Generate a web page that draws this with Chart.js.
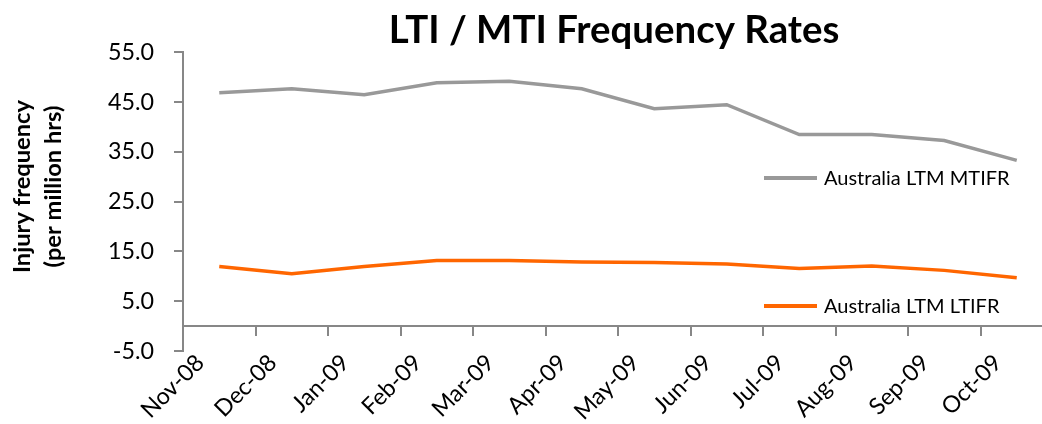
<!DOCTYPE html>
<html><head><meta charset="utf-8">
<script src="https://cdn.jsdelivr.net/npm/chart.js@4.4.1/dist/chart.umd.min.js"></script>
<style>html,body{margin:0;padding:0;overflow:hidden;background:#fff}canvas{display:block}</style>
</head><body>
<canvas id="c" width="1228" height="424"></canvas>
<script>
const categories = ['Nov-08','Dec-08','Jan-09','Feb-09','Mar-09','Apr-09','May-09','Jun-09','Jul-09','Aug-09','Sep-09','Oct-09'];
const mtifrValues = [46.9,47.7,46.5,48.9,49.2,47.7,43.7,44.5,38.5,38.5,37.3,33.3];
const ltifrValues = [12.0,10.5,12.0,13.2,13.2,12.9,12.8,12.5,11.6,12.1,11.2,9.7];
const yTickValues = [-5,5,15,25,35,45,55];
const seriesNames = ['Australia LTM MTIFR','Australia LTM LTIFR'];
const titleText = 'LTI / MTI Frequency Rates';
const yTitleLines = ['Injury frequency','(per million hrs)'];

const FONT = 'Lato';
const mctx = document.createElement('canvas').getContext('2d');
function fitSize(text, weight, target){
  mctx.font = weight + ' 100px ' + FONT;
  return Math.round(1000*target/mctx.measureText(text).width)/10;
}
const titleSize = fitSize(titleText,'bold',451);
const tickSize = fitSize('55.0','normal',46);
const legendSize = fitSize(seriesNames[0],'normal',186);
const yTitleSize = fitSize(yTitleLines[0],'bold',173);

const AXIS = '#878787';

const annot = {
  id:'annot',
  afterDraw(chart){
    const c = chart.ctx;
    c.save();
    c.fillStyle = '#000';
    c.font = 'bold ' + yTitleSize + 'px ' + FONT;
    c.textAlign = 'center';
    c.textBaseline = 'alphabetic';
    const cy = 186.5;
    [30, 61].forEach((bx,i)=>{
      c.save(); c.translate(bx, cy); c.rotate(-Math.PI/2);
      c.fillText(yTitleLines[i],0,0); c.restore();
    });
    c.restore();
    const legendRows = [178, 306];
    chart.data.datasets.forEach((ds,i)=>{
      const y = legendRows[i];
      c.save();
      c.strokeStyle = ds.borderColor; c.lineWidth = 4;
      c.beginPath(); c.moveTo(764,y); c.lineTo(817,y); c.stroke();
      c.fillStyle = '#000'; c.font = legendSize + 'px ' + FONT;
      c.textBaseline = 'middle'; c.textAlign = 'left';
      c.fillText(ds.label, 824, y+1);
      c.restore();
    });
  }
};

new Chart(document.getElementById('c'), {
  type:'line',
  data:{
    labels:categories,
    datasets:[
      {label:seriesNames[0], data:mtifrValues, borderColor:'#999999', borderWidth:3.5, pointRadius:0, tension:0, xAxisID:'x', yAxisID:'y'},
      {label:seriesNames[1], data:ltifrValues, borderColor:'#FF6600', borderWidth:3.5, pointRadius:0, tension:0, xAxisID:'x', yAxisID:'y'}
    ]
  },
  options:{
    responsive:false, animation:false,
    layout:{padding:0},
    plugins:{
      legend:{display:false}, tooltip:{enabled:false},
      title:{display:true, text:titleText, color:'#000', font:{family:FONT, size:titleSize, weight:'bold', lineHeight:1}, padding:{top:11,bottom:3}}
    },
    scales:{
      x:{type:'category', position:'bottom', offset:true,
         grid:{display:false}, border:{display:false},
         ticks:{color:'#000', font:{family:FONT,size:tickSize}, minRotation:45, maxRotation:45, autoSkip:false, labelOffset:-19, padding:-10},
         afterFit(s){ s.height = 73; }},
      xz:{type:'category', position:{y:0}, offset:true,
         grid:{offset:true, drawOnChartArea:false, drawTicks:true, tickLength:9, color:AXIS, lineWidth:2},
         border:{display:true, color:AXIS, width:2},
         ticks:{display:false}},
      y:{min:yTickValues[0], max:yTickValues[yTickValues.length-1],
         afterBuildTicks(s){ s.ticks = yTickValues.map(v=>({value:v})); },
         ticks:{callback:v=>Number(v).toFixed(1), color:'#000', font:{family:FONT,size:tickSize}, padding:20},
         grid:{drawOnChartArea:false, drawTicks:true, tickLength:9, color:AXIS, lineWidth:2},
         border:{color:AXIS, width:2},
         afterFit(s){ s.width = 183; }},
      yr:{position:'right', min:yTickValues[0], max:yTickValues[yTickValues.length-1],
         ticks:{display:false}, grid:{display:false}, border:{display:false},
         afterFit(s){ s.width = 175; }}
    }
  },
  plugins:[annot]
});
</script>
</body></html>
